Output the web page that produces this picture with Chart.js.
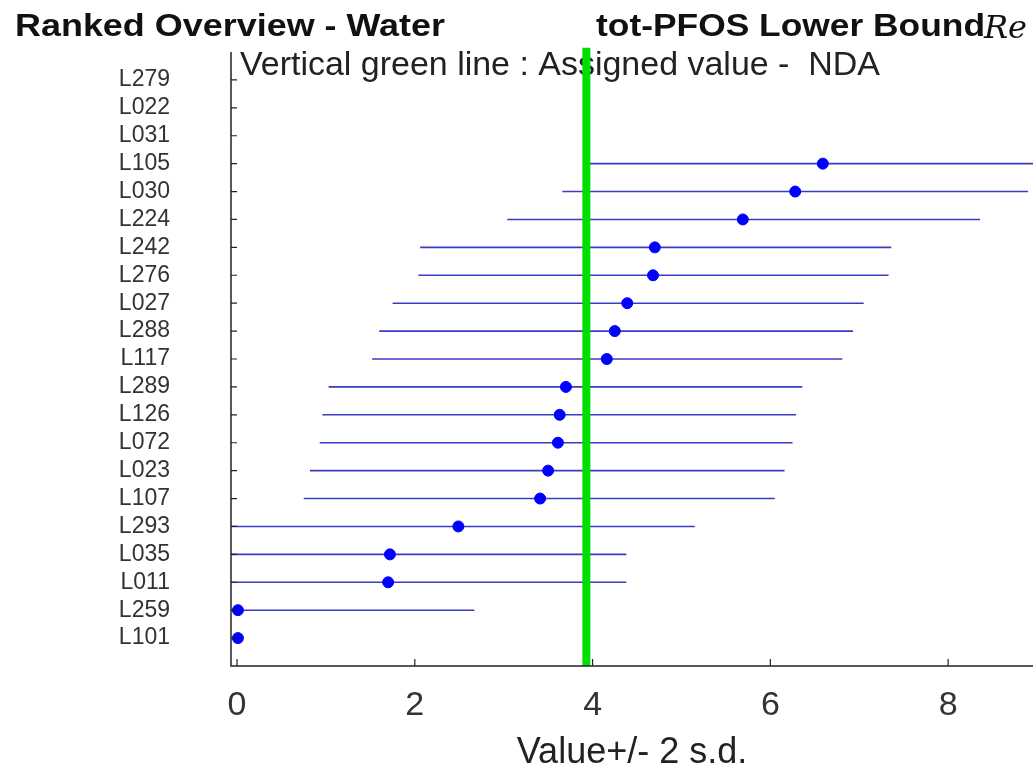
<!DOCTYPE html>
<html>
<head>
<meta charset="utf-8">
<script src="https://cdn.jsdelivr.net/npm/chart.js@4/dist/chart.umd.min.js"></script>
<style>
  html, body { margin: 0; padding: 0; background: #ffffff; overflow: hidden; }
  #wrap { width: 1033px; height: 769px; position: relative; }
</style>
</head>
<body>
<div id="wrap"><canvas id="c" width="1033" height="769"></canvas></div>
<script>
// ---- data ----
const labs = ["L279","L022","L031","L105","L030","L224","L242","L276","L027","L288","L117",
              "L289","L126","L072","L023","L107","L293","L035","L011","L259","L101"];
const values = [null,null,null,6.59,6.28,5.69,4.70,4.68,4.39,4.25,4.16,
                3.70,3.63,3.61,3.50,3.41,2.49,1.72,1.70,0.01,0.01];
const lowBound = [null,null,null,3.97,3.66,3.04,2.06,2.04,1.75,1.60,1.52,
                  1.03,0.96,0.93,0.82,0.75,-0.17,-0.94,-0.98,-2.65,null];
const highBound = [null,null,null,9.21,8.90,8.36,7.36,7.33,7.05,6.93,6.81,
                   6.36,6.29,6.25,6.16,6.05,5.15,4.38,4.38,2.67,null];
const xTickValues = [0, 2, 4, 6, 8];
const assignedValue = 3.93;
const xRange = [-0.068, 8.955];
const yRange = [0, 22];
const greenSpan = [-0.15, 22];

// ---- datasets built from arrays ----
const datasets = [];
labs.forEach((lab, i) => {
  if (lowBound[i] !== null && highBound[i] !== null) {
    datasets.push({
      type: 'line',
      data: [{x: lowBound[i], y: i + 1}, {x: highBound[i], y: i + 1}],
      borderColor: '#3b3bc4',
      borderWidth: 1.6,
      pointRadius: 0,
      fill: false,
      order: 3
    });
  }
});
datasets.push({
  type: 'line',
  data: [{x: assignedValue, y: greenSpan[0]}, {x: assignedValue, y: greenSpan[1]}],
  borderColor: '#00e000',
  borderWidth: 8,
  pointRadius: 0,
  clip: false,
  order: 2
});
datasets.push({
  type: 'scatter',
  data: labs.map((l, i) => values[i] === null ? null : {x: values[i], y: i + 1}).filter(p => p),
  backgroundColor: '#0000ff',
  borderColor: '#0000ff',
  pointRadius: 5.5,
  order: 1
});

const FONT = "'Liberation Sans', Arial, sans-serif";

function fitText(ctx, text, x, y, targetW) {
  const w = ctx.measureText(text).width;
  const sx = targetW / w;
  ctx.save();
  ctx.translate(x, y);
  ctx.scale(sx, 1);
  ctx.fillText(text, 0, 0);
  ctx.restore();
}

const decor = {
  id: 'decor',
  beforeDatasetsDraw(chart) {
    const ctx = chart.ctx;
    ctx.save();
    ctx.fillStyle = '#222';
    ctx.font = "34px " + FONT;
    ctx.textBaseline = 'middle';
    ctx.textAlign = 'left';
    fitText(ctx, "Vertical green line : Assigned value -  NDA", 240, 66, 640);
    ctx.restore();
  },
  afterDraw(chart) {
    const ctx = chart.ctx;
    const xs = chart.scales.x, ys = chart.scales.y;
    const a = chart.chartArea;
    ctx.save();
    // axes
    ctx.strokeStyle = '#222';
    ctx.lineWidth = 1.5;
    ctx.beginPath();
    ctx.moveTo(a.left, a.top);
    ctx.lineTo(a.left, a.bottom);
    ctx.lineTo(a.right, a.bottom);
    ctx.stroke();
    // inner ticks
    ctx.lineWidth = 1.2;
    ctx.beginPath();
    labs.forEach((l, i) => {
      const py = ys.getPixelForValue(i + 1);
      ctx.moveTo(a.left, py);
      ctx.lineTo(a.left + 6, py);
    });
    xTickValues.forEach(v => {
      const px = xs.getPixelForValue(v);
      ctx.moveTo(px, a.bottom);
      ctx.lineTo(px, a.bottom - 7);
    });
    ctx.stroke();
    // titles
    ctx.fillStyle = '#111';
    ctx.textBaseline = 'middle';
    ctx.textAlign = 'left';
    ctx.font = "bold 32px " + FONT;
    fitText(ctx, "Ranked Overview - Water", 15, 27, 430);
    fitText(ctx, "tot-PFOS Lower Bound", 596, 27, 389);
    ctx.font = "italic 32px 'DejaVu Serif', serif";
    ctx.fillText("Re", 984, 30);
    ctx.restore();
  }
};

new Chart(document.getElementById('c'), {
  data: { datasets },
  options: {
    responsive: false,
    animation: false,
    events: [],
    layout: { autoPadding: false, padding: { top: 52, right: 0, left: 0, bottom: 0 } },
    plugins: { legend: { display: false }, tooltip: { enabled: false } },
    scales: {
      x: {
        type: 'linear',
        min: xRange[0], max: xRange[1],
        border: { display: false },
        grid: { display: false, drawTicks: false },
        afterBuildTicks: s => { s.ticks = xTickValues.map(v => ({ value: v })); },
        afterFit: s => { s.height = 103; s.paddingLeft = 0; s.paddingRight = 0; },
        ticks: {
          color: '#333',
          font: { family: FONT, size: 34 },
          padding: 19,
          maxRotation: 0,
          autoSkip: false
        },
        title: {
          display: true,
          text: 'Value+/- 2 s.d.',
          color: '#222',
          font: { family: FONT, size: 36, lineHeight: 0.9 },
          padding: { top: 0, bottom: 0 }
        }
      },
      y: {
        type: 'linear',
        reverse: true,
        min: yRange[0], max: yRange[1],
        border: { display: false },
        grid: { display: false, drawTicks: false },
        afterBuildTicks: s => { s.ticks = labs.map((l, i) => ({ value: i + 1 })); },
        afterFit: s => { s.width = 231; s.paddingTop = 0; s.paddingBottom = 0; },
        ticks: {
          color: '#333',
          font: { family: FONT, size: 23 },
          padding: 61,
          autoSkip: false,
          callback: v => labs[v - 1] || ''
        }
      }
    }
  },
  plugins: [decor]
});
</script>
</body>
</html>
